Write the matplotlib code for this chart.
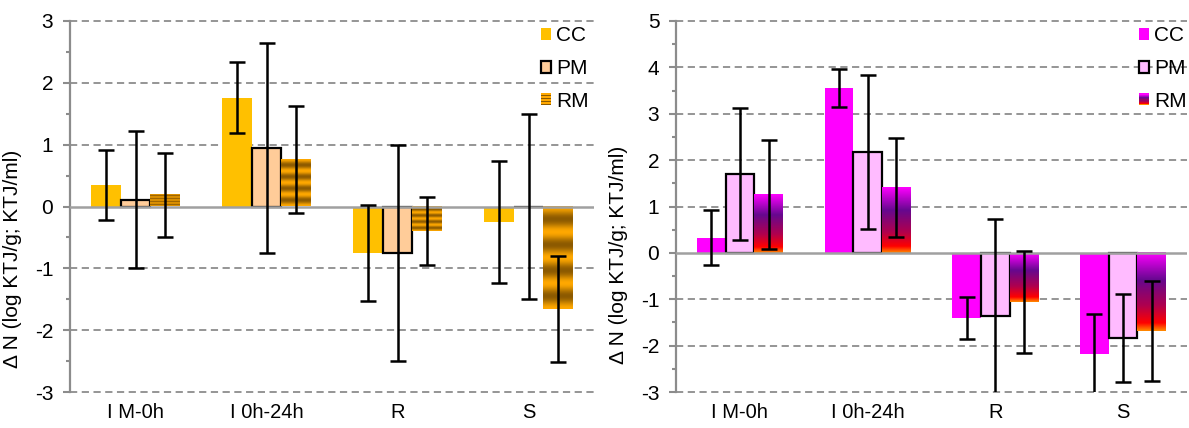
import numpy as np
import matplotlib
matplotlib.use("Agg")
import matplotlib.pyplot as plt
from matplotlib.patches import Patch, Rectangle
from matplotlib.legend_handler import HandlerBase
from matplotlib.colors import LinearSegmentedColormap, to_rgb

plt.rcParams["font.family"] = ["Liberation Sans", "DejaVu Sans"]
plt.rcParams["axes.unicode_minus"] = False

# ---- data --------------------------------------------------------------
categories = ["I M-0h", "I 0h-24h", "R", "S"]
series = ["CC", "PM", "RM"]

left_cc = [0.35, 1.76, -0.75, -0.25]
left_cc_err = [0.57, 0.57, 0.78, 0.99]
left_pm = [0.11, 0.95, -0.75, 0.0]
left_pm_err = [1.11, 1.70, 1.75, 1.50]
left_rm = [0.19, 0.76, -0.40, -1.66]
left_rm_err = [0.68, 0.87, 0.55, 0.86]

right_cc = [0.33, 3.56, -1.41, -2.18]
right_cc_err = [0.60, 0.41, 0.45, 0.87]
right_pm = [1.70, 2.18, -1.36, -1.83]
right_pm_err = [1.42, 1.66, 2.10, 0.95]
right_rm = [1.26, 1.41, -1.05, -1.69]
right_rm_err = [1.18, 1.07, 1.10, 1.08]

GRID = "#8c8c8c"
AXIS = "#8c8c8c"

# left panel colours
L_CC = "#FFC000"
L_PM = "#FFCC99"
BRASS_A = np.array(to_rgb("#FFA800"))
BRASS_B = np.array(to_rgb("#8C5A00"))

# right panel colours
R_CC = "#FF00FF"
R_PM = "#FFBBFF"
FIRE = LinearSegmentedColormap.from_list(
    "fire", [(0.0, "#FF00FF"), (0.35, "#66088F"), (0.68, "#B0004E"),
             (0.9, "#FF0000"), (1.0, "#FF8A00")])


def brass_rows(n=200, cycles=4):
    t = np.linspace(0, 1, n)
    k = 0.5 - 0.5 * np.cos(2 * np.pi * cycles * t)
    return BRASS_A[None, :] * (1 - k[:, None]) + BRASS_B[None, :] * k[:, None]


def fire_rows(n=200):
    return FIRE(np.linspace(0, 1, n))[:, :3]


class StripeHandler(HandlerBase):
    """Legend key made of horizontal stripes (top to bottom)."""

    def __init__(self, colors):
        super().__init__()
        self.colors = colors

    def create_artists(self, legend, orig_handle, xdescent, ydescent,
                       width, height, fontsize, trans):
        n = len(self.colors)
        arts = []
        for i, c in enumerate(self.colors):
            arts.append(Rectangle((-xdescent, -ydescent + height * (n - 1 - i) / n),
                                  width, height / n, fc=c, ec="none",
                                  transform=trans))
        return arts


def panel(ax, cc, cc_err, pm, pm_err, rm, rm_err, ylim, colors, rows, key_rows,
          leg_anchor):
    x = np.arange(len(categories))
    w = 0.225
    ekw = dict(ecolor="black", elinewidth=1.8, capsize=5.5, capthick=1.8)

    ax.bar(x - w, cc, w, color=colors[0], zorder=3)
    ax.bar(x, pm, w, color=colors[1], edgecolor="black", linewidth=1.6, zorder=3)
    rm_bars = ax.bar(x + w, rm, w, color="none", zorder=3)
    for b in rm_bars:
        y0, y1 = sorted([b.get_y(), b.get_y() + b.get_height()])
        if y1 - y0 <= 0:
            continue
        ax.imshow(rows[:, None, :], extent=(b.get_x(), b.get_x() + b.get_width(), y0, y1),
                  origin="upper", aspect="auto", interpolation="bilinear", zorder=3)

    ax.errorbar(x - w, cc, yerr=cc_err, fmt="none", zorder=5, **ekw)
    ax.errorbar(x, pm, yerr=pm_err, fmt="none", zorder=5, **ekw)
    ax.errorbar(x + w, rm, yerr=rm_err, fmt="none", zorder=5, **ekw)

    ax.set_xlim(-0.5, len(categories) - 0.5)
    ax.set_ylim(*ylim)
    ax.set_aspect("auto")
    ax.set_xticks(x)
    ax.set_xticklabels(categories, fontsize=14.5)
    ax.tick_params(axis="x", length=0, pad=8)
    ax.set_yticks(np.arange(ylim[0], ylim[1] + 1, 1))
    ax.set_yticks(np.arange(ylim[0] + 0.5, ylim[1], 1), minor=True)
    ax.tick_params(axis="y", which="major", direction="out", length=5, width=1.5,
                   color=AXIS, labelsize=15, pad=7)
    ax.tick_params(axis="y", which="minor", direction="out", length=3, width=1.5,
                   color=AXIS)

    for s in ["top", "right", "bottom"]:
        ax.spines[s].set_visible(False)
    ax.spines["left"].set_color(AXIS)
    ax.spines["left"].set_linewidth(1.6)

    for yv in np.arange(ylim[0], ylim[1] + 1, 1):
        if yv == 0:
            continue
        ax.axhline(yv, color=GRID, lw=1.3, ls=(0, (4, 2.5)), zorder=1, clip_on=False)
    ax.axhline(0, color="#a0a0a0", lw=1.8, zorder=4)

    ax.set_ylabel("Δ N (log KTJ/g; KTJ/ml)", fontsize=15)

    handles = [Patch(fc=colors[0], ec="none"),
               Patch(fc=colors[1], ec="black", lw=1.6),
               Patch(fc="none", ec="none")]
    leg = ax.legend(handles, series, loc="upper right", bbox_to_anchor=leg_anchor,
                    frameon=False, fontsize=15, handlelength=0.5, handleheight=0.5,
                    handletextpad=0.25, labelspacing=0.66, borderpad=0.0,
                    borderaxespad=0.25,
                    handler_map={handles[2]: StripeHandler(key_rows)})
    leg.set_zorder(6)


fig = plt.figure(figsize=(11.89, 4.28), dpi=100)
ax1 = fig.add_axes([70 / 1189, 36 / 428, 524 / 1189, 371 / 428])
ax2 = fig.add_axes([676 / 1189, 36 / 428, 511 / 1189, 371 / 428])

brass_key = ["#FFA800", "#8C5A00"] * 4
fire_key = [tuple(c) for c in fire_rows(10)]

panel(ax1, left_cc, left_cc_err, left_pm, left_pm_err, left_rm, left_rm_err,
      (-3, 3), (L_CC, L_PM), brass_rows(), brass_key, (1.0, 1.0))
panel(ax2, right_cc, right_cc_err, right_pm, right_pm_err, right_rm, right_rm_err,
      (-3, 5), (R_CC, R_PM), fire_rows(), fire_key, (1.01, 1.0))

ax1.yaxis.set_label_coords(-0.092, 0.36)
ax2.yaxis.set_label_coords(-0.094, 0.37)

fig.savefig("out.png", dpi=100)
